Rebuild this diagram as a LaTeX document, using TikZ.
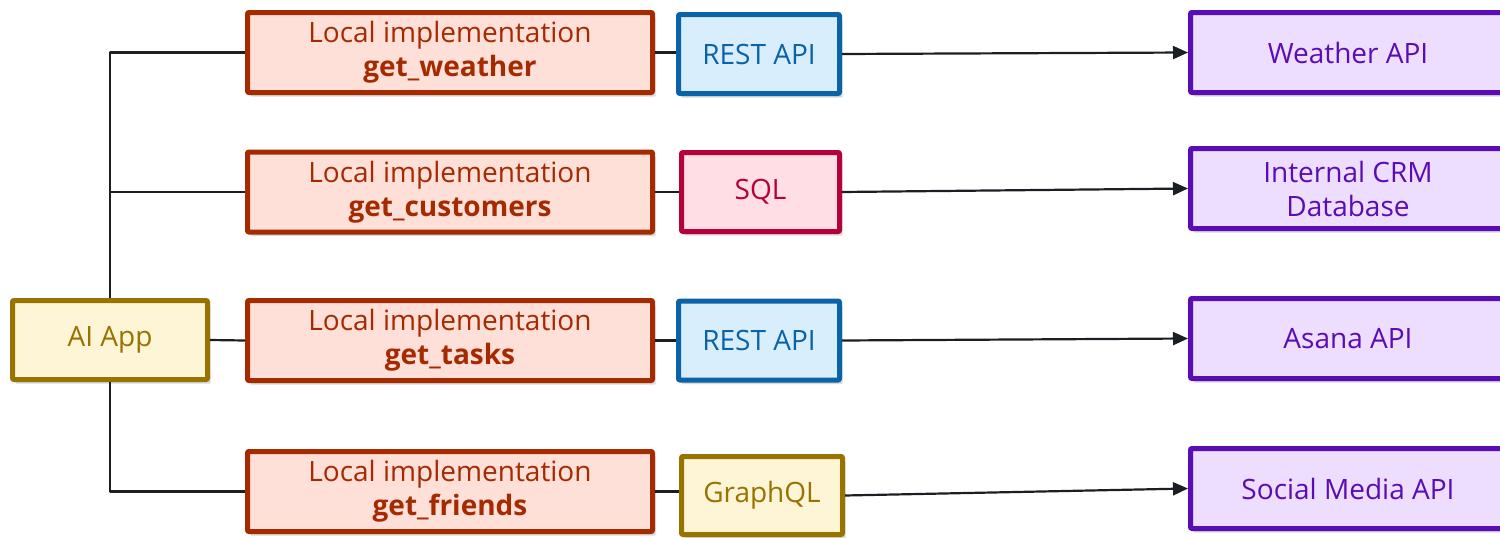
\documentclass[tikz,border=0pt]{standalone}
\usepackage{fontspec}
\setmainfont{Open Sans}
\usetikzlibrary{arrows.meta,shadows}
\definecolor{appline}{HTML}{987300}
\definecolor{appfill}{HTML}{FEF4D6}
\definecolor{locline}{HTML}{A52A00}
\definecolor{locfill}{HTML}{FFE0D9}
\definecolor{restline}{HTML}{0A63A8}
\definecolor{restfill}{HTML}{D8EEFC}
\definecolor{sqlline}{HTML}{B5003A}
\definecolor{sqlfill}{HTML}{FFDEE6}
\definecolor{srcline}{HTML}{5B0DB5}
\definecolor{srcfill}{HTML}{EDDDFF}
\definecolor{wire}{HTML}{1B1F24}
\begin{document}
\begin{tikzpicture}[x=1pt,y=-1pt, font=\fontsize{28}{34}\selectfont,
	line join=round,
	box/.style={draw, line width=5pt, rounded corners=1pt, inner sep=2pt, align=center,
		drop shadow={opacity=0.3, shadow xshift=3pt, shadow yshift=-4pt}},
	appbox/.style={box, draw=appline, fill=appfill, text=appline},
	locbox/.style={box, draw=locline, fill=locfill, text=locline, minimum width=405pt, minimum height=80pt},
	restbox/.style={box, draw=restline, fill=restfill, text=restline, minimum width=161pt, minimum height=79pt},
	sqlbox/.style={box, draw=sqlline, fill=sqlfill, text=sqlline, minimum width=158pt, minimum height=79pt},
	srcbox/.style={box, draw=srcline, fill=srcfill, text=srcline, minimum width=315pt, minimum height=80pt},
	wire/.style={draw=wire, line width=2.2pt},
	>={Triangle[length=15pt,width=13pt]}]
	\useasboundingbox (0,0) rectangle (1500,538);
	\clip (0,0) rectangle (1500,538);
	% the app
	\node[appbox, minimum width=195pt, minimum height=79pt] (app) at (110,340) {AI App};
	% local tools
	\node[locbox] (weather) at (450,52.5) {Local implementation\\\textbf{get\_weather}};
	\node[locbox] (customers) at (450,192) {Local implementation\\\textbf{get\_customers}};
	\node[locbox] (tasks) at (450,340.5) {Local implementation\\\textbf{get\_tasks}};
	\node[locbox] (friends) at (450,491.5) {Local implementation\\\textbf{get\_friends}};
	% protocols
	\node[restbox] (rest1) at (759,54) {REST API};
	\node[sqlbox] (sql) at (760.5,192) {SQL};
	\node[restbox] (rest2) at (759,340.5) {REST API};
	\node[appbox, minimum width=161pt, minimum height=78pt] (gql) at (762,495.5) {GraphQL};
	% back ends
	\node[srcbox] (wapi) at (1348,52.5) {Weather API};
	\node[srcbox] (crm) at (1348,188.5) {Internal CRM\\Database};
	\node[srcbox] (asana) at (1348,338.5) {Asana API};
	\node[srcbox] (social) at (1348,488.5) {Social Media API};
	% wires
	\draw[wire] (app.north) |- (weather.west);
	\draw[wire] (app.north) |- (customers.west);
	\draw[wire] (app.east) -- (tasks.west);
	\draw[wire] (app.south) |- (friends.west);
	\draw[wire] (weather.east) -- (weather.east -| rest1.west);
	\draw[wire] (customers.east) -- (customers.east -| sql.west);
	\draw[wire] (tasks.east) -- (tasks.east -| rest2.west);
	\draw[wire] (friends.east) -- (friends.east -| gql.west);
	\draw[wire,->] (rest1.east) -- (wapi.west);
	\draw[wire,->] (sql.east) -- (crm.west);
	\draw[wire,->] (rest2.east) -- (asana.west);
	\draw[wire,->] (gql.east) -- (social.west);
\end{tikzpicture}
\end{document}
